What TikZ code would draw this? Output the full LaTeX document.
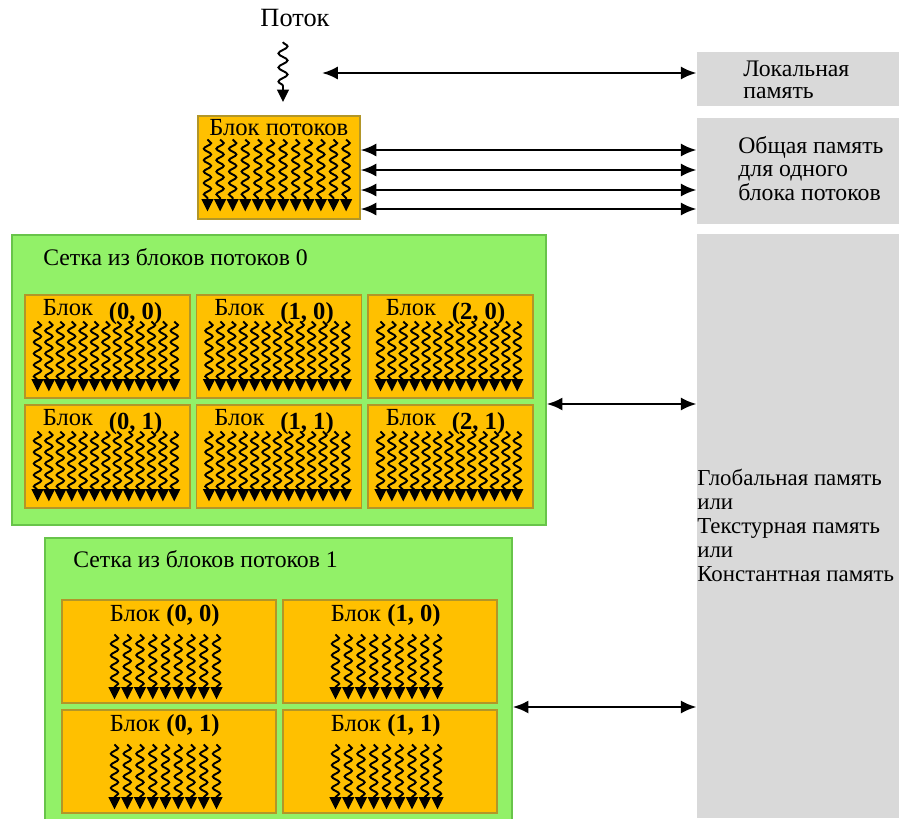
\documentclass[tikz,border=0pt]{standalone}
\usepackage{fontspec}
\setmainfont{Liberation Serif}
\usetikzlibrary{arrows.meta,decorations.pathmorphing,calc}

\definecolor{memgray}{RGB}{217,217,217}
\definecolor{gridgreen}{RGB}{146,241,104}
\definecolor{gridline}{RGB}{104,196,74}
\definecolor{blkorange}{RGB}{255,192,0}
\definecolor{blkline}{RGB}{178,150,40}

\begin{document}
\begin{tikzpicture}[x=0.02cm,y=-0.02cm]
\tikzset{
	mem/.style = {
		fill=memgray, minimum width=4.04cm, inner sep=0
	},
	grid/.style = {
		draw=gridline, fill=gridgreen, line width=0.8pt, inner sep=0
	},
	blk/.style = {
		draw=blkline, fill=blkorange, line width=0.6pt,
		minimum height=2.06cm, inner sep=0
	},
	txt/.style = {
		anchor=base west, inner sep=0,
		font=\fontsize{13.5}{13.5}\selectfont
	},
	lbl/.style = {
		anchor=base west, inner sep=0,
		font=\fontsize{14}{14}\selectfont
	},
	thread/.style = {
		decorate, line width=1.1pt,
		decoration={snake, amplitude=2.1pt, segment length=6.5pt, post length=6pt},
		-{Triangle[width=6.6pt,length=7pt]}
	},
	link/.style = {
		line width=1.5pt,
		{Latex[length=9pt,width=7.5pt]}-{Latex[length=9pt,width=7.5pt]}
	},
}
\useasboundingbox (0,0) rectangle (899,818);

% memory boxes on the right
\node [mem, minimum height=1.08cm] (locmem) at (798, 79) {};
\node [mem, minimum height=2.12cm] (shmem) at (798, 171) {};
\node [mem, minimum height=11.68cm] (glob) at (798, 526) {};

\node [txt] (loc1) at (743, 76) {Локальная};
\node [txt] (loc2) at (743, 98) {память};
\node [txt] (sh1) at (738, 153) {Общая память};
\node [txt] (sh2) at (738, 176) {для одного};
\node [txt] (sh3) at (738, 200) {блока потоков};
\foreach \t [count=\i] in {Глобальная память, или, Текстурная память, или, Константная память}
  \node [txt, font=\fontsize{13}{13}\selectfont] (gl\i) at (697, 461+24*\i) {\t};

% one thread
\node [lbl, anchor=base, font=\fontsize{15}{15}\selectfont] (thr) at (295, 27) {Поток};
\coordinate (t0) at (283, 42);
\coordinate (t1) at (283, 102);
\draw [thread, decoration={amplitude=2.6pt, segment length=8pt}] (t0) -- (t1);
\coordinate (tl) at (322, 73);
\draw [link] (tl) -- (tl -| locmem.west);

% thread block
\node [blk, minimum width=3.24cm] (tb) at (279, 167.5) {};
\node [lbl] (tbl) at (209, 135) {Блок потоков};
\foreach \i in {0,...,11}
  \draw [thread] ($(tb.north west)+(10+12.6*\i,24)$) -- ++(0,72);
\foreach \y in {150,170,190,209}
  \draw [link] (tb.east |- 0,\y) -- (shmem.west |- 0,\y);

% grid 0
\node [grid, minimum width=10.68cm, minimum height=5.8cm] (grid0) at (279, 380) {};
\node [txt] (g0l) at (43, 265) {Сетка из блоков потоков 0};
\foreach \c in {0,1,2}{
  \foreach \r in {0,1}{
    \node [blk, minimum width=3.3cm] (b\c\r) at (107.5+171.5*\c, 346.5+110*\r) {};
    \node [lbl] at ($(b\c\r.north west)+(18,21)$) {Блок\hspace{9pt}\raisebox{-2pt}{\bfseries(\c, \r)}};
    \foreach \i in {0,...,12}
      \draw [thread] ($(b\c\r.north west)+(13+11.4*\i,27)$) -- ++(0,70);
  }
}
\draw [link] (grid0.east |- 0,404) -- (glob.west |- 0,404);

% grid 1
\node [grid, minimum width=9.34cm, minimum height=5.76cm] (grid1) at (278.5, 682) {};
\node [txt] (g1l) at (73, 567) {Сетка из блоков потоков 1};
\foreach \c in {0,1}{
  \foreach \r in {0,1}{
    \node [blk, minimum width=4.28cm] (c\c\r) at (169+221*\c, 651.5+110*\r) {};
    \node [lbl] at ($(c\c\r.north west)+(48,22)$) {Блок \bfseries(\c, \r)};
    \foreach \i in {0,...,8}
      \draw [thread] ($(c\c\r.north west)+(53+12.75*\i,35)$) -- ++(0,65);
  }
}
\draw [link] (grid1.east |- 0,707) -- (glob.west |- 0,707);

\end{tikzpicture}
\end{document}
